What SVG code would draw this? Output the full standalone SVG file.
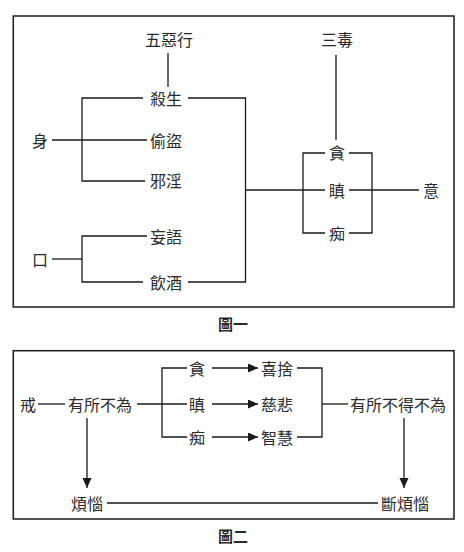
<svg xmlns="http://www.w3.org/2000/svg" width="464" height="552" viewBox="0 0 464 552">
<style>
text{font-family:"Noto Sans CJK TC","Noto Sans CJK SC",sans-serif;font-size:16px;fill:#2a2a2a;text-anchor:middle;dominant-baseline:central}
.cap{font-size:15px;font-weight:bold}
.ln{fill:none;stroke:#1a1a1a;stroke-width:1.3}
.box{fill:none;stroke:#1a1a1a;stroke-width:1.5}
</style>
<defs>
<marker id="ah" markerUnits="userSpaceOnUse" markerWidth="12" markerHeight="10" refX="10" refY="4.5" orient="auto">
<path d="M0,0 L10,4.5 L0,9 Z" fill="#1a1a1a"/>
</marker>
</defs>
<rect class="box" x="13.3" y="16" width="440.7" height="291"/>
<rect class="box" x="13.3" y="350.7" width="440.7" height="168.3"/>
<g id="connectors">
<path class="ln" d="M168,53 V87"/>
<path class="ln" d="M143,98 H82 V181 H145"/>
<path class="ln" d="M52,140 H147"/>
<path class="ln" d="M147,236 H82 V282 H143"/>
<path class="ln" d="M52,259 H82"/>
<path class="ln" d="M188,98 H245.5 V282 H188"/>
<path class="ln" d="M245.5,190 H325"/>
<path class="ln" d="M336,55 V140"/>
<path class="ln" d="M325,153 H303 V233 H325"/>
<path class="ln" d="M349,153 H372 V233 H349"/>
<path class="ln" d="M349,190 H419"/>
<path class="ln" d="M38,404 H65"/>
<path class="ln" d="M137,404 H187"/>
<path class="ln" d="M187,368 H162 V437 H187"/>
<path class="ln" d="M212,368 H258" marker-end="url(#ah)"/>
<path class="ln" d="M212,404 H258" marker-end="url(#ah)"/>
<path class="ln" d="M212,437 H258" marker-end="url(#ah)"/>
<path class="ln" d="M297,368 H322 V437 H297"/>
<path class="ln" d="M322,404 H348"/>
<path class="ln" d="M87,418 V488" marker-end="url(#ah)"/>
<path class="ln" d="M404,418 V488" marker-end="url(#ah)"/>
<path class="ln" d="M107,503 H378"/>
</g>
<g id="n-wuexing"><text x="169" y="39">五惡行</text></g>
<g id="n-sandu"><text x="337" y="39">三毒</text></g>
<g id="n-shasheng"><text x="166" y="98">殺生</text></g>
<g id="n-toudao"><text x="166" y="140">偷盜</text></g>
<g id="n-xieyin"><text x="166" y="180">邪淫</text></g>
<g id="n-wangyu"><text x="166" y="236">妄語</text></g>
<g id="n-yinjiu"><text x="166" y="282">飲酒</text></g>
<g id="n-shen"><text x="40" y="140">身</text></g>
<g id="n-kou"><text x="40" y="259">口</text></g>
<g id="n-tan1"><text x="337" y="152">貪</text></g>
<g id="n-chen1"><text x="337" y="190">瞋</text></g>
<g id="n-chi1"><text x="337" y="233">痴</text></g>
<g id="n-yi"><text x="431" y="190">意</text></g>
<g id="cap1"><text class="cap" x="233" y="323">圖一</text></g>
<g id="n-jie"><text x="28" y="404">戒</text></g>
<g id="n-yousuobuwei"><text x="100" y="404">有所不為</text></g>
<g id="n-tan2"><text x="197" y="368">貪</text></g>
<g id="n-chen2"><text x="197" y="404">瞋</text></g>
<g id="n-chi2"><text x="197" y="437">痴</text></g>
<g id="n-xishe"><text x="277" y="368">喜捨</text></g>
<g id="n-cibei"><text x="277" y="404">慈悲</text></g>
<g id="n-zhihui"><text x="277" y="437">智慧</text></g>
<g id="n-yousuobudebuwei"><text x="398" y="404">有所不得不為</text></g>
<g id="n-fannao"><text x="87" y="503">煩惱</text></g>
<g id="n-duanfannao"><text x="405" y="503">斷煩惱</text></g>
<g id="cap2"><text class="cap" x="233" y="535">圖二</text></g>
</svg>
